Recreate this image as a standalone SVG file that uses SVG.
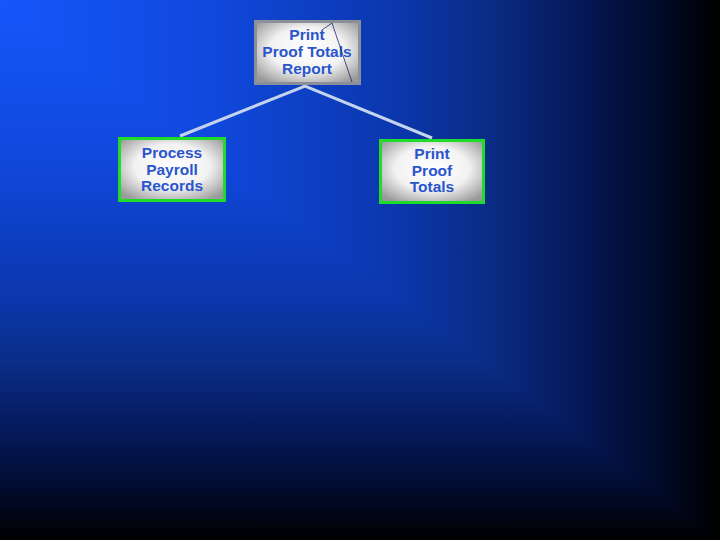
<svg xmlns="http://www.w3.org/2000/svg" width="720" height="540" viewBox="0 0 720 540">
<defs>
<linearGradient id="bgH" x1="0" y1="0" x2="720" y2="0" gradientUnits="userSpaceOnUse">
<stop offset="0" stop-color="#1656fa"/>
<stop offset="0.3" stop-color="#1048dc"/>
<stop offset="0.55" stop-color="#0b37ad"/>
<stop offset="0.67" stop-color="#0a2d88"/>
<stop offset="0.8" stop-color="#05195a"/>
<stop offset="0.9" stop-color="#020c30"/>
<stop offset="1" stop-color="#000000"/>
</linearGradient>
<linearGradient id="bgV" x1="0" y1="0" x2="0" y2="540" gradientUnits="userSpaceOnUse">
<stop offset="0" stop-color="#1656fa"/>
<stop offset="0.3" stop-color="#1048dc"/>
<stop offset="0.55" stop-color="#0b37ad"/>
<stop offset="0.67" stop-color="#0a2d88"/>
<stop offset="0.8" stop-color="#05195a"/>
<stop offset="0.9" stop-color="#020c30"/>
<stop offset="1" stop-color="#000000"/>
</linearGradient>
<radialGradient id="boxFill" cx="0.5" cy="0.45" r="0.65">
<stop offset="0" stop-color="#ffffff"/>
<stop offset="0.55" stop-color="#f2f2f2"/>
<stop offset="1" stop-color="#9a9a9a"/>
</radialGradient>
<style>
.lbl{font-family:"Liberation Sans",Arial,sans-serif;font-size:15.5px;font-weight:bold;fill:#2a55cc;text-anchor:middle}
.conn{stroke:#c4d4ee;stroke-width:3;fill:none}
.gbox{fill:url(#boxFill);stroke:#1fdc2a;stroke-width:3}
.tbox{fill:url(#boxFill);stroke:#8a8f9a;stroke-width:3}
</style>
</defs>
<rect width="720" height="540" fill="url(#bgV)"/>
<polygon points="0,0 720,0 720,540" fill="url(#bgH)"/>
<g id="connectors">
<polyline class="conn" points="180,136 305,86 432,138"/>
</g>
<g id="node-top">
<rect class="tbox" x="255.5" y="21.5" width="104" height="62"/>
<text class="lbl" x="307" y="40">Print</text>
<text class="lbl" x="307" y="57">Proof Totals</text>
<text class="lbl" x="307" y="74">Report</text>
<polyline points="322,30 332,23 352,82" fill="none" stroke="#1a2a70" stroke-width="0.8"/>
</g>
<g id="node-left">
<rect class="gbox" x="119.5" y="138.5" width="105" height="62"/>
<text class="lbl" x="172" y="158">Process</text>
<text class="lbl" x="172" y="175">Payroll</text>
<text class="lbl" x="172" y="191">Records</text>
</g>
<g id="node-right">
<rect class="gbox" x="380.5" y="140.5" width="103" height="62"/>
<text class="lbl" x="432" y="159">Print</text>
<text class="lbl" x="432" y="176">Proof</text>
<text class="lbl" x="432" y="192">Totals</text>
</g>
</svg>
